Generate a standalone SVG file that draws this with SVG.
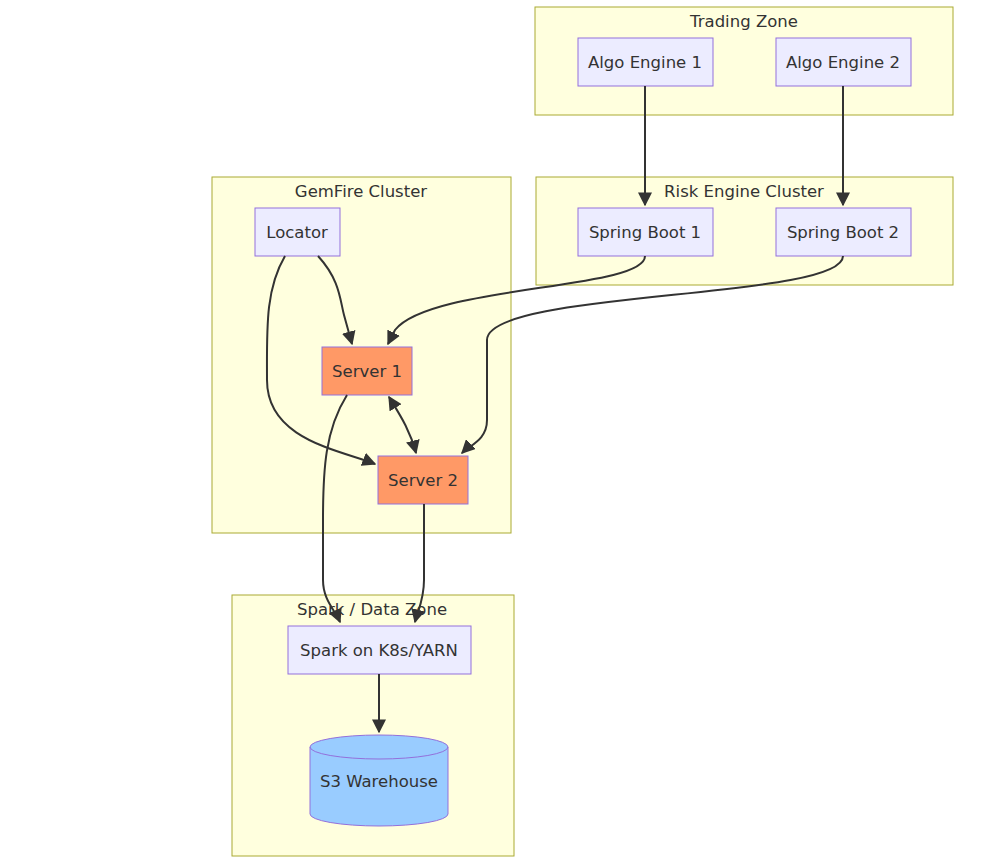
<svg xmlns="http://www.w3.org/2000/svg" width="985" height="866" viewBox="0 0 985 866">
<style>
.cl{fill:#ffffde;stroke:#aaaa33;stroke-width:1}
.nd{fill:#ececff;stroke:#9370db;stroke-width:1}
.sv{fill:#ff9966;stroke:#9370db;stroke-width:1}
.db{fill:#99ccff;stroke:#9370db;stroke-width:1}
text{font-family:"DejaVu Sans","Liberation Sans",sans-serif;font-size:16.5px;fill:#333;text-anchor:middle;dominant-baseline:central}
.e{fill:none;stroke:#333;stroke-width:2}
</style>
<defs>
<marker id="a" viewBox="0 0 10 10" refX="9" refY="5" markerWidth="7" markerHeight="7" orient="auto-start-reverse"><path d="M0,0L10,5L0,10z" fill="#333"/></marker>
</defs>
<rect width="985" height="866" fill="#fff"/>
<g id="trading"><rect class="cl" x="535" y="7" width="418" height="108"/><text x="744" y="21">Trading Zone</text></g>
<g id="risk"><rect class="cl" x="536" y="177" width="417" height="108"/><text x="744" y="191">Risk Engine Cluster</text></g>
<g id="gemfire"><rect class="cl" x="212" y="177" width="299" height="356"/><text x="361" y="191">GemFire Cluster</text></g>
<g id="sparkzone"><rect class="cl" x="232" y="595" width="282" height="261"/><text x="372" y="609">Spark / Data Zone</text></g>
<g id="algo1"><rect class="nd" x="578" y="38" width="135" height="48"/><text x="645" y="62">Algo Engine 1</text></g>
<g id="algo2"><rect class="nd" x="776" y="38" width="135" height="48"/><text x="843" y="62">Algo Engine 2</text></g>
<g id="sb1"><rect class="nd" x="578" y="208" width="135" height="48"/><text x="645" y="232">Spring Boot 1</text></g>
<g id="sb2"><rect class="nd" x="776" y="208" width="135" height="48"/><text x="843" y="232">Spring Boot 2</text></g>
<g id="locator"><rect class="nd" x="255" y="208" width="85" height="48"/><text x="297" y="232">Locator</text></g>
<g id="server1"><rect class="sv" x="322" y="347" width="90" height="48"/><text x="367" y="371">Server 1</text></g>
<g id="server2"><rect class="sv" x="378" y="456" width="90" height="48"/><text x="423" y="480">Server 2</text></g>
<g id="spark"><rect class="nd" x="288" y="626" width="183" height="48"/><text x="379" y="650">Spark on K8s/YARN</text></g>
<g id="s3"><path class="db" d="M310,747 a69,12 0 0 1 138,0 v67 a69,12 0 0 1 -138,0 z"/><path d="M310,747 a69,12 0 0 0 138,0" fill="none" stroke="#9370db"/><text x="379" y="781">S3 Warehouse</text></g>
<g id="connectors">
<path class="e" marker-end="url(#a)" d="M645,86V205"/>
<path class="e" marker-end="url(#a)" d="M843,86V205"/>
<path class="e" marker-end="url(#a)" d="M645,256C645,290 430,285 395,330 L388,344"/>
<path class="e" marker-end="url(#a)" d="M843,256C843,300 487,290 487,340 V420 C487,440 470,445 462,453"/>
<path class="e" marker-end="url(#a)" d="M318,256C340,280 340,300 344,315 L352,344"/>
<path class="e" marker-end="url(#a)" d="M285,256C265,290 267,330 267,380 C267,440 340,450 375,464"/>
<path class="e" marker-start="url(#a)" marker-end="url(#a)" d="M389,397C400,415 410,430 416,453"/>
<path class="e" marker-end="url(#a)" d="M347,395C325,430 323,470 323,520 V580 C323,600 335,610 340,622"/>
<path class="e" marker-end="url(#a)" d="M424,504V580 C424,600 418,610 415,622"/>
<path class="e" marker-end="url(#a)" d="M379,674V732"/>
</g>
</svg>
